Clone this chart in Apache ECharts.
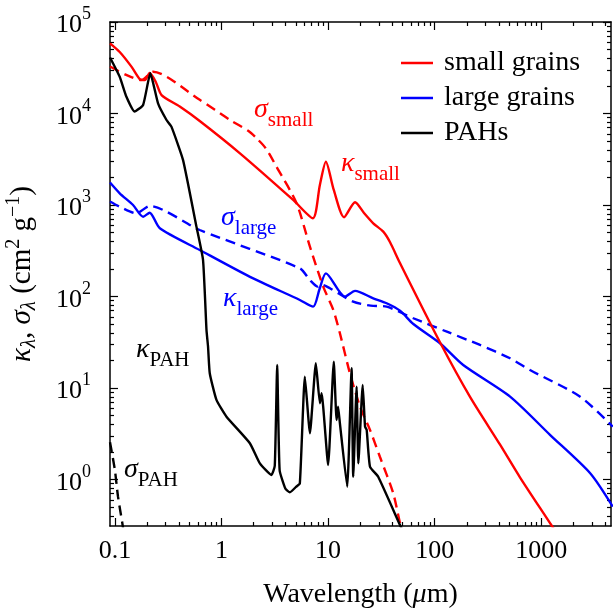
<!DOCTYPE html>
<html>
<head>
<meta charset="utf-8">
<script src="https://cdn.jsdelivr.net/npm/echarts@6/dist/echarts.min.js"></script>
<style>
html,body{margin:0;padding:0;background:#fff;}
#chart{width:613px;height:609px;}
</style>
</head>
<body>
<div id="chart"></div>
<script>
// ---------------- data (wavelength in micron, opacity in cm^2 g^-1) ----------------
const lamKSmall = [0.09,0.111,0.143,0.171,0.191,0.212,0.242,0.274,0.406,0.625,1.49,4.70,7.19,8.37,9.53,11.3,14.1,17.9,21.7,26.5,32.9,38.0,47.2,112,215,410,632,1256,1350];
const kSmall    = [58500,47000,32500,23800,23200,27700,22100,15900,11900,8280,3670,1135,716,1656,2970,1459,735,1072,818,631,511,394,232,31.6,7.94,2.40,1.05,0.31,0.27];

const lamSSmall = [0.09,0.128,0.177,0.228,0.625,1.2,1.78,2.13,2.6,3.28,5.06,6.75,9.0,11.2,12.9,16.0,19.9,24.7,30.6,40.8,47.2,50.1];
const sSmall    = [32600,26400,23200,28600,14100,8500,6460,5370,4170,2620,1045,350,128,71,39.6,14.5,6.25,3.48,1.77,0.706,0.335,0.27];

const lamKLarge = [0.09,0.111,0.148,0.184,0.212,0.264,0.625,1.85,5.43,7.24,8.3,9.53,14.4,17.9,26.5,35.4,47.2,63.0,112,185,509,1211,2871,4677];
const kLarge    = [1760,1343,1000,745,824,556,322,164,91.6,77.4,120,179,99.5,115,95.5,84.3,70,50,30.8,17.8,8.04,3.06,1.17,0.505];

const lamSLarge = [0.09,0.111,0.159,0.212,0.625,5.43,6.75,8.0,8.6,10.4,17.2,25.1,35.4,63.0,130,266,509,783,2312,4677];
const sLarge    = [1090,957,811,975,533,203,151,128,135,123,87.7,79.4,77.4,57.8,41.2,29.5,21.1,15.7,8.04,3.78];

const lamKPAH = [0.09,0.111,0.128,0.153,0.184,0.215,0.254,0.305,0.339,0.436,0.582,0.671,0.723,0.748,0.776,0.897,1.114,1.845,2.29,2.94,3.16,3.33,3.51,3.98,4.38,5.0,5.43,6.05,6.75,7.67,8.37,8.69,10.0,11.3,12.0,12.4,12.9,15.1,16.6,17.2,18.5,19.2,21.1,22.2,23.0,24.7,29.5,47.2,50.1];
const kPAH    = [41000,25200,15300,10500,12400,27500,12900,8490,7180,3090,580,251,43.1,28.2,14.5,7.40,4.85,2.49,1.50,1.12,1.41,17.8,1.26,0.79,0.724,0.83,0.908,13.3,3.2,18.6,6.81,8.75,1.44,19.4,4.47,6.25,4.11,0.834,16.4,1.07,10.3,1.50,10.8,3.78,3.48,1.38,1.07,0.318,0.275];

const lamSPAH = [0.09,0.1,0.107,0.1175,0.12];
const sPAH    = [2.55,1.27,0.649,0.332,0.28];

// ---------------- tick values / labels ----------------
const xMajorTicks = [0.1, 1, 10, 100, 1000];
const xTickLabels = ['0.1', '1', '10', '100', '1000'];
const xMinorTicks = [0.2,0.3,0.4,0.5,0.6,0.7,0.8,0.9, 2,3,4,5,6,7,8,9, 20,30,40,50,60,70,80,90, 200,300,400,500,600,700,800,900, 2000,3000,4000];
const yMajorTicks = [1, 10, 100, 1000, 10000, 100000];
const yTickExponents = ['0', '1', '2', '3', '4', '5'];
const yMinorTicks = [0.4,0.5,0.6,0.7,0.8,0.9, 2,3,4,5,6,7,8,9, 20,30,40,50,60,70,80,90, 200,300,400,500,600,700,800,900, 2000,3000,4000,5000,6000,7000,8000,9000, 20000,30000,40000,50000,60000,70000,80000,90000];

const legendNames = ['small grains', 'large grains', 'PAHs'];

// ---------------- chart ----------------
const XMIN = 0.09, XMAX = 4500, YMIN = 0.31, YMAX = 1e5;
const FONT = 'Liberation Serif';
const L = v => Math.log10(v);

function pairs(xs, ys) { return xs.map((x, i) => [x, ys[i]]); }

function tickAxisX(pos, ticks, len, withLabels, showLine) {
  return {
    type: 'value', position: pos, min: L(XMIN), max: L(XMAX),
    axisLine: { show: showLine, onZero: false, lineStyle: { color: '#000', width: 1.5 } },
    axisTick: { show: true, inside: true, length: len, customValues: ticks.map(L), lineStyle: { color: '#000', width: 1.2 } },
    axisLabel: withLabels ? {
      show: true, customValues: xMajorTicks.map(L), margin: 12,
      fontFamily: FONT, fontSize: 26, color: '#000',
      formatter: v => { const i = xMajorTicks.findIndex(t => Math.abs(L(t) - v) < 1e-6); return i >= 0 ? xTickLabels[i] : ''; }
    } : { show: false },
    splitLine: { show: false }
  };
}
function tickAxisY(pos, ticks, len, withLabels, showLine) {
  return {
    type: 'value', position: pos, min: L(YMIN), max: L(YMAX),
    axisLine: { show: showLine, onZero: false, lineStyle: { color: '#000', width: 1.5 } },
    axisTick: { show: true, inside: true, length: len, customValues: ticks.map(L), lineStyle: { color: '#000', width: 1.2 } },
    axisLabel: withLabels ? {
      show: true, customValues: yMajorTicks.map(L), margin: 19,
      fontFamily: FONT, color: '#000',
      formatter: v => { const i = yMajorTicks.findIndex(t => Math.abs(L(t) - v) < 1e-6); return i >= 0 ? '{b|10}{e|' + yTickExponents[i] + '}' : ''; },
      rich: {
        b: { fontFamily: FONT, fontSize: 26, lineHeight: 33, verticalAlign: 'bottom', color: '#000' },
        e: { fontFamily: FONT, fontSize: 18, lineHeight: 18, verticalAlign: 'top', color: '#000' }
      }
    } : { show: false },
    splitLine: { show: false }
  };
}

const chart = echarts.init(document.getElementById('chart'), null, { renderer: 'canvas' });

const lw = 2.4;
const dash = [10, 6];
function lineSeries(name, data, color, dashed, z) {
  return {
    name, type: 'line', data, xAxisIndex: 0, yAxisIndex: 0,
    symbol: 'none', smooth: 0.25, clip: true, z: z || 2,
    lineStyle: { color, width: lw, type: dashed ? dash : 'solid' },
    itemStyle: { color }
  };
}

const annoRich = (main, sub, color) => ({
  text: '{g|' + main + '}{s|' + sub + '}',
  fill: color,
  rich: {
    g: { fontFamily: FONT, fontSize: 28, fontStyle: 'italic', lineHeight: 35, verticalAlign: 'top', fill: color },
    s: { fontFamily: FONT, fontSize: 21, lineHeight: 21, verticalAlign: 'bottom', fill: color }
  }
});

const option = {
  animation: false,
  backgroundColor: '#fff',
  textStyle: { fontFamily: FONT },
  grid: { left: 110, right: 2, top: 22, bottom: 83, containLabel: false, outerBoundsMode: 'none' },
  xAxis: [
    {
      type: 'log', logBase: 10, min: XMIN, max: XMAX, position: 'bottom',
      axisLine: { show: true, onZero: false, lineStyle: { color: '#000', width: 1.5 } },
      axisTick: { show: false }, axisLabel: { show: false }, splitLine: { show: false },
      name: 'Wavelength ({m|μ}m)', nameLocation: 'middle', nameGap: 55,
      nameTextStyle: { fontFamily: FONT, fontSize: 28, color: '#000',
        rich: { m: { fontFamily: FONT, fontSize: 28, fontStyle: 'italic', color: '#000' } } }
    },
    tickAxisX('bottom', xMajorTicks, 8, true, false),
    tickAxisX('bottom', xMinorTicks, 4, false, false),
    tickAxisX('top', xMajorTicks, 8, false, true),
    tickAxisX('top', xMinorTicks, 4, false, false)
  ],
  yAxis: [
    {
      type: 'log', logBase: 10, min: YMIN, max: YMAX, position: 'left',
      axisLine: { show: true, onZero: false, lineStyle: { color: '#000', width: 1.5 } },
      axisTick: { show: false }, axisLabel: { show: false }, splitLine: { show: false },
      name: '{k|κ}{s|λ}{t|, }{k|σ}{s|λ}{t| (cm}{p|2}{t| g}{p|−1}{t|)}',
      nameLocation: 'middle', nameRotate: 90, nameGap: 70,
      nameTextStyle: {
        fontFamily: FONT, color: '#000',
        rich: {
          k: { fontFamily: FONT, fontSize: 29, fontStyle: 'italic', lineHeight: 36, verticalAlign: 'middle', color: '#000' },
          s: { fontFamily: FONT, fontSize: 21, fontStyle: 'italic', lineHeight: 21, verticalAlign: 'bottom', color: '#000' },
          t: { fontFamily: FONT, fontSize: 29, lineHeight: 36, verticalAlign: 'middle', color: '#000' },
          p: { fontFamily: FONT, fontSize: 20, lineHeight: 20, verticalAlign: 'top', color: '#000' }
        }
      }
    },
    tickAxisY('left', yMajorTicks, 8, true, false),
    tickAxisY('left', yMinorTicks, 4, false, false),
    tickAxisY('right', yMajorTicks, 8, false, true),
    tickAxisY('right', yMinorTicks, 4, false, false)
  ],
  legend: {
    data: legendNames, orient: 'vertical', left: 396, top: 44,
    icon: 'rect', itemWidth: 32, itemHeight: 2.5, itemGap: 7, selectedMode: false,
    textStyle: { fontFamily: FONT, fontSize: 28, color: '#000', lineHeight: 28, padding: [0, 0, 0, 6] }
  },
  series: [
    lineSeries('small grains', pairs(lamKSmall, kSmall), '#ff0000', false, 3),
    lineSeries('σ small', pairs(lamSSmall, sSmall), '#ff0000', true, 3),
    lineSeries('large grains', pairs(lamKLarge, kLarge), '#0000ff', false, 2),
    lineSeries('σ large', pairs(lamSLarge, sLarge), '#0000ff', true, 2),
    Object.assign(lineSeries('PAHs', pairs(lamKPAH, kPAH), '#000000', false, 4), { smooth: 0.15 }),
    lineSeries('σ PAH', pairs(lamSPAH, sPAH), '#000000', true, 4)
  ],
  graphic: [
    { type: 'text', x: 254, y: 96, style: annoRich('σ', 'small', '#ff0000'), z: 10 },
    { type: 'text', x: 341, y: 150, style: annoRich('κ', 'small', '#ff0000'), z: 10 },
    { type: 'text', x: 221, y: 204, style: annoRich('σ', 'large', '#0000ff'), z: 10 },
    { type: 'text', x: 223, y: 285, style: annoRich('κ', 'large', '#0000ff'), z: 10 },
    { type: 'text', x: 136, y: 336, style: annoRich('κ', 'PAH', '#000000'), z: 10 },
    { type: 'text', x: 124, y: 456, style: annoRich('σ', 'PAH', '#000000'), z: 10 }
  ]
};
chart.setOption(option);
</script>
</body>
</html>
